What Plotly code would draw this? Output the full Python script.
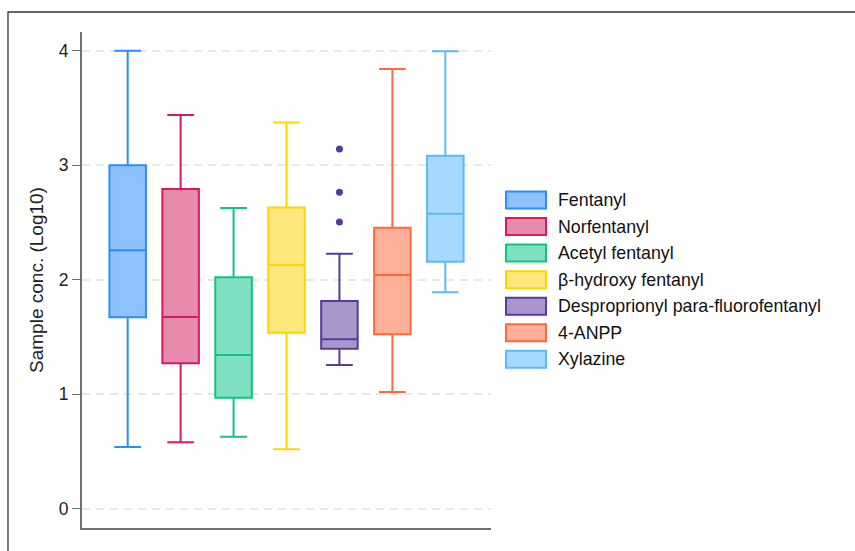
import plotly.graph_objects as go

# ---- data ----
categories = ["Fentanyl", "Norfentanyl", "Acetyl fentanyl", "β-hydroxy fentanyl",
              "Desproprionyl para-fluorofentanyl", "4-ANPP", "Xylazine"]
lower_whisker = [0.54, 0.58, 0.63, 0.52, 1.256, 1.02, 1.89]
q1_values     = [1.672, 1.271, 0.970, 1.538, 1.398, 1.524, 2.158]
medians       = [2.257, 1.675, 1.343, 2.129, 1.480, 2.042, 2.577]
q3_values     = [3.00, 2.793, 2.022, 2.632, 1.815, 2.455, 3.084]
upper_whisker = [4.00, 3.44, 2.627, 3.374, 2.228, 3.84, 3.995]
outlier_category = "Desproprionyl para-fluorofentanyl"
outlier_values = [3.142, 2.764, 2.505]
y_ticks = [0, 1, 2, 3, 4]

line_colors = ["#2B8CFF", "#D81B60", "#12C283", "#FFD500", "#573A9C", "#FF6A3D", "#5BBBF7"]
fill_colors = ["#8EC1FD", "#E88AAB", "#80E0C3", "#FEE77C", "#A896CC", "#FFB099", "#A7D9FE"]

FONT = "Liberation Sans, Arial, Helvetica, sans-serif"

fig = go.Figure()
for i, name in enumerate(categories):
    fig.add_trace(go.Box(
        name=name, x=[name],
        q1=[q1_values[i]], median=[medians[i]], q3=[q3_values[i]],
        lowerfence=[lower_whisker[i]], upperfence=[upper_whisker[i]],
        fillcolor=fill_colors[i],
        line=dict(color=line_colors[i], width=2),
        width=0.69, whiskerwidth=0.73,
        boxpoints=False, showlegend=False, hoverinfo="y",
    ))

oi = categories.index(outlier_category)
fig.add_trace(go.Scatter(
    x=[outlier_category] * len(outlier_values), y=outlier_values,
    mode="markers", marker=dict(color=line_colors[oi], size=7),
    showlegend=False,
))

# plot area in pixels: x 82..491, y 32..528
W, H = 855, 551
L, R, T, B = 82, 491, 32, 528
def px_x(p): return (p - L) / (R - L)
def px_y(p): return (B - p) / (B - T)

shapes = []
annotations = []
# outer frame (partially visible)
shapes.append(dict(type="rect", xref="paper", yref="paper",
                   x0=px_x(8), x1=px_x(900), y0=px_y(600), y1=px_y(12),
                   line=dict(color="#333333", width=1.3), fillcolor="rgba(0,0,0,0)", layer="below"))
# custom legend
for i, name in enumerate(categories):
    cy = 200 + i * 26.55
    shapes.append(dict(type="rect", xref="paper", yref="paper",
                       x0=px_x(506), x1=px_x(546), y0=px_y(cy + 8.5), y1=px_y(cy - 8.5),
                       fillcolor=fill_colors[i], line=dict(color=line_colors[i], width=2)))
    annotations.append(dict(xref="paper", yref="paper", x=px_x(556), y=px_y(cy),
                            text=name, showarrow=False, xanchor="left", yanchor="middle",
                            font=dict(family=FONT, size=17.8, color="#111111")))

fig.update_layout(
    width=W, height=H,
    margin=dict(l=L, r=W - R, t=T, b=H - B),
    paper_bgcolor="white", plot_bgcolor="white",
    font=dict(family=FONT, color="#222222"),
    showlegend=False,
    shapes=shapes, annotations=annotations,
    boxmode="overlay",
)
fig.update_xaxes(
    type="category", categoryorder="array", categoryarray=categories,
    range=[-0.863, 6.863], showticklabels=False, ticks="",
    showgrid=False, zeroline=False,
    showline=True, linecolor="#707070", linewidth=2,
)
fig.update_yaxes(
    range=[-0.168, 4.164], tickvals=y_ticks, ticktext=[str(v) for v in y_ticks],
    ticks="outside", ticklen=8, tickwidth=1.3, tickcolor="#707070",
    tickfont=dict(family=FONT, size=17.5, color="#222222"),
    showgrid=True, gridcolor="#E8E8E8", gridwidth=1.5, griddash="8px,6px",
    zeroline=False,
    showline=True, linecolor="#707070", linewidth=2,
    title=dict(text="Sample conc. (Log10)", font=dict(family=FONT, size=19, color="#222222"), standoff=10),
)

fig.write_html("out.html")
